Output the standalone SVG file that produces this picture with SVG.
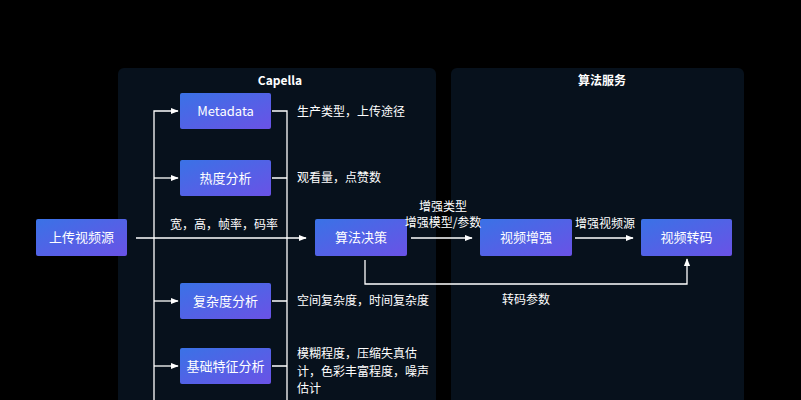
<svg xmlns="http://www.w3.org/2000/svg" width="801" height="400" viewBox="0 0 801 400">
<defs>
<linearGradient id="g" x1="0" y1="0" x2="1" y2="1"><stop offset="0" stop-color="#3a72e6"/><stop offset="1" stop-color="#6a52e6"/></linearGradient>
<marker id="a" viewBox="0 0 10 10" refX="9" refY="5" markerWidth="6" markerHeight="6" orient="auto"><path d="M0,1 L10,5 L0,9 z" fill="#fff"/></marker>
</defs>
<style>
text{font-family:"Noto Sans CJK SC","Noto Sans",sans-serif;fill:#fff;font-size:12px}
.n rect{fill:url(#g)}
.n text{text-anchor:middle;font-size:13px}
.c path{stroke:#fff;stroke-width:1.3;fill:none}
.ar{marker-end:url(#a)}
.t{font-size:12px;font-weight:bold;text-anchor:middle}
</style>
<rect width="801" height="400" fill="#000"/>
<rect x="118" y="68" width="318" height="345" rx="6" fill="#07111c"/>
<rect x="451" y="68" width="293" height="345" rx="6" fill="#07111c"/>
<text class="t" x="280" y="85">Capella</text>
<text class="t" x="602" y="85">算法服务</text>
<g class="c">
<path d="M154 400 V111 H178" class="ar"/>
<path d="M154 178 H178" class="ar"/>
<path d="M154 301 H178" class="ar"/>
<path d="M154 366 H178" class="ar"/>
<path d="M272 111 H287 V400"/>
<path d="M272 178 H287 M272 301 H287 M272 366 H287"/>
<path d="M136 238 H306" class="ar"/>
<path d="M411 238 H472" class="ar"/>
<path d="M575 238 H633" class="ar"/>
<path d="M365 260 V284 H687 V259" class="ar"/>
</g>
<g id="src" class="n"><rect x="36" y="219" width="91" height="37" rx="2"/><text x="81.5" y="242">上传视频源</text></g>
<g id="meta" class="n"><rect x="180" y="93" width="91" height="36" rx="2"/><text x="225.5" y="116">Metadata</text></g>
<g id="heat" class="n"><rect x="180" y="160" width="91" height="36" rx="2"/><text x="225.5" y="183">热度分析</text></g>
<g id="cplx" class="n"><rect x="180" y="283" width="91" height="36" rx="2"/><text x="225.5" y="306">复杂度分析</text></g>
<g id="base" class="n"><rect x="180" y="348" width="91" height="36" rx="2"/><text x="225.5" y="371">基础特征分析</text></g>
<g id="algo" class="n"><rect x="315" y="219" width="92" height="37" rx="2"/><text x="361" y="242">算法决策</text></g>
<g id="enh" class="n"><rect x="480" y="219" width="92" height="37" rx="2"/><text x="526" y="242">视频增强</text></g>
<g id="trans" class="n"><rect x="641" y="219" width="91" height="37" rx="2"/><text x="686.5" y="242">视频转码</text></g>
<text x="297" y="116">生产类型，上传途径</text>
<text x="297" y="182">观看量，点赞数</text>
<text x="170" y="229">宽，高，帧率，码率</text>
<text x="297" y="305">空间复杂度，时间复杂度</text>
<text x="297" y="358">模糊程度，压缩失真估</text>
<text x="297" y="376">计，色彩丰富程度，噪声</text>
<text x="297" y="393">估计</text>
<text x="443" y="211" text-anchor="middle">增强类型</text>
<text x="443" y="227" text-anchor="middle">增强模型/参数</text>
<text x="605" y="228" text-anchor="middle">增强视频源</text>
<text x="526" y="304" text-anchor="middle">转码参数</text>
</svg>
